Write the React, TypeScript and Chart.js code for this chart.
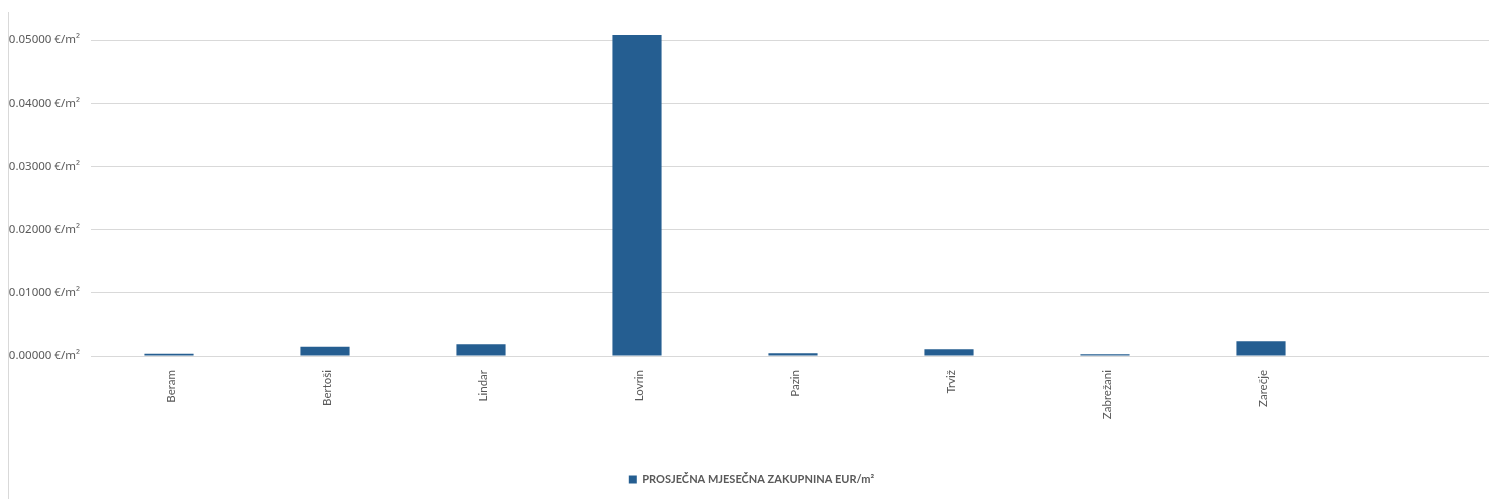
import React, { useEffect, useRef } from 'react';
import { Chart, registerables } from 'chart.js';

Chart.register(...registerables);

const categories = ['Beram', 'Bertoši', 'Lindar', 'Lovrin', 'Pazin', 'Trviž', 'Zabrežani', 'Zarečje', ''];
const values = [0.00037, 0.00148, 0.00186, 0.0508, 0.00043, 0.00106, 0.00027, 0.00233, null];
const yTicks = [0, 0.01, 0.02, 0.03, 0.04, 0.05];
const seriesLabel = 'PROSJEČNA MJESEČNA ZAKUPNINA EUR/m²';

const FONT = 'Lato, "Noto Sans", sans-serif';
const YFONT = '"Noto Sans", "Open Sans", sans-serif';
const TEXT = '#595959';
const GRID = '#d9d9d9';
const BAR = '#255E91';

export default function App() {
  const ref = useRef<HTMLCanvasElement | null>(null);

  useEffect(() => {
    if (!ref.current) return;
    const chart = new Chart(ref.current, {
      type: 'bar',
      data: {
        labels: categories,
        datasets: [
          {
            label: seriesLabel,
            data: values,
            backgroundColor: BAR,
            borderWidth: 0,
            categoryPercentage: 1,
            barPercentage: 0.315,
          },
        ],
      },
      options: {
        responsive: false,
        animation: false,
        layout: { padding: { top: 27, right: 13, left: 0, bottom: 4 } },
        plugins: {
          tooltip: { enabled: false },
          legend: {
            position: 'bottom',
            labels: {
              boxWidth: 8,
              boxHeight: 8,
              padding: 10,
              color: TEXT,
              font: { family: FONT, size: 11, weight: 'bold' },
            },
          },
        },
        scales: {
          x: {
            grid: { display: false },
            border: { color: GRID },
            ticks: {
              color: TEXT,
              font: { family: FONT, size: 11.5 },
              minRotation: 90,
              maxRotation: 90,
              autoSkip: false,
              padding: 6,
              labelOffset: 2,
            },
            afterFit: (s: any) => {
              s.height = 108;
            },
          },
          y: {
            min: 0,
            max: 0.0508,
            afterBuildTicks: (s: any) => {
              s.ticks = yTicks.map((v) => ({ value: v }));
            },
            grid: { color: GRID, drawTicks: false },
            border: { display: false },
            ticks: {
              color: TEXT,
              font: { family: YFONT, size: 11.5 },
              padding: 11,
              callback: (v: any) => Number(v).toFixed(5) + ' €/m²',
            },
            afterFit: (s: any) => {
              s.width = 83;
            },
          },
        },
      },
    });
    return () => chart.destroy();
  }, []);

  return (
    <div style={{ position: 'fixed', left: 0, top: 0, width: 1489, height: 499, overflow: 'hidden', background: '#fff' }}>
      <div style={{ position: 'absolute', left: 8, top: 12, width: 0, height: 487, borderLeft: `1px solid ${GRID}` }} />
      <canvas ref={ref} width={1500} height={491} style={{ position: 'absolute', left: 8, top: 8, width: 1500, height: 491 }} />
    </div>
  );
}
